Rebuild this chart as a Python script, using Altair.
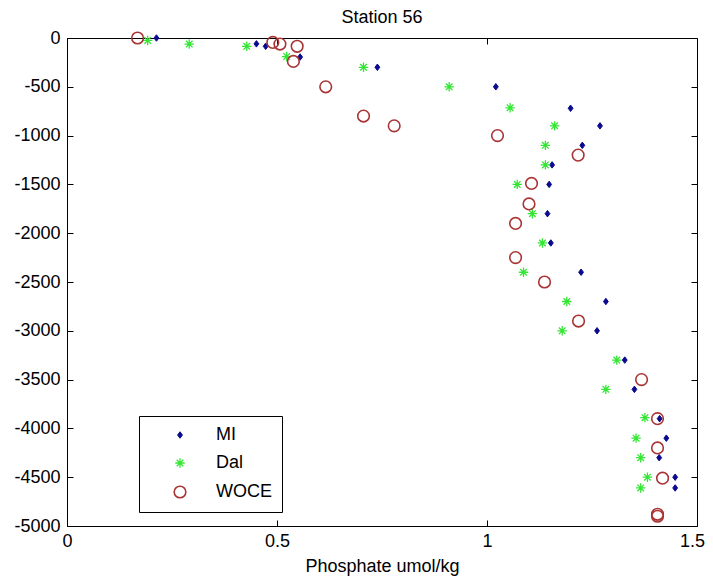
import altair as alt
import pandas as pd

series_names = ["MI", "Dal", "WOCE"]

mi_phosphate = [0.213, 0.451, 0.473, 0.555, 0.739, 1.021, 1.199, 1.269, 1.227, 1.155, 1.148, 1.144,
                1.152, 1.224, 1.283, 1.262, 1.328, 1.351, 1.411, 1.427, 1.410, 1.448, 1.448]
mi_depth = [0, -60, -85, -195, -300, -500, -720, -900, -1100, -1300, -1500, -1800,
            -2100, -2400, -2700, -3000, -3300, -3600, -3900, -4100, -4300, -4500, -4610]

dal_phosphate = [0.192, 0.291, 0.428, 0.523, 0.706, 0.910, 1.055, 1.161, 1.139, 1.139, 1.072, 1.108,
                 1.132, 1.087, 1.190, 1.179, 1.309, 1.283, 1.376, 1.355, 1.366, 1.382, 1.366]
dal_depth = [-25, -62, -85, -190, -300, -500, -715, -900, -1100, -1300, -1500, -1800,
             -2100, -2400, -2700, -3000, -3300, -3600, -3890, -4100, -4300, -4500, -4610]

woce_phosphate = [0.168, 0.490, 0.507, 0.548, 0.539, 0.616, 0.706, 0.779, 1.025, 1.217, 1.106, 1.100,
                  1.068, 1.068, 1.137, 1.218, 1.368, 1.406, 1.406, 1.418, 1.406, 1.406]
woce_depth = [0, -45, -62, -85, -240, -500, -800, -900, -1000, -1200, -1490, -1700,
              -1900, -2250, -2500, -2900, -3500, -3900, -4200, -4510, -4880, -4900]

x_ticks = [0, 0.5, 1, 1.5]
y_ticks = [-5000, -4500, -4000, -3500, -3000, -2500, -2000, -1500, -1000, -500, 0]

rows = []
for name, xs_, ys_ in [("MI", mi_phosphate, mi_depth),
                       ("Dal", dal_phosphate, dal_depth),
                       ("WOCE", woce_phosphate, woce_depth)]:
    for x, y in zip(xs_, ys_):
        rows.append({"series": name, "phosphate": x, "depth": y})
df = pd.DataFrame(rows)

FONT = "Liberation Sans"
blue = "#0a0a8f"
green = "#33e633"
red = "#a83434"

asterisk = "M-1,0L1,0M0,-1L0,1M-0.7,-0.7L0.7,0.7M-0.7,0.7L0.7,-0.7"
diamond = "M-0.75,0L0,-1L0.75,0L0,1Z"

x_scale = alt.Scale(domain=[0, 1.5], nice=False, zero=False)
y_scale = alt.Scale(domain=[-5000, 0], nice=False, zero=False)

common_axis = dict(offset=-6, tickSize=6, domain=False, grid=False, tickColor="black",
                   tickWidth=1, labelColor="black", labelFont=FONT, labelFontSize=18,
                   labelFlush=False,
                   titleFont=FONT, titleFontSize=18, titleColor="black", titleFontWeight="normal")

legend = alt.Legend(title=None, orient="none", legendX=72, legendY=378,
                    strokeColor="black", fillColor="white", padding=10,
                    symbolOffset=22, labelOffset=27, labelFont=FONT, labelFontSize=18,
                    labelColor="black", rowPadding=10, symbolStrokeWidth=1.4)

points = alt.Chart(df).mark_point(filled=False, opacity=1).encode(
    x=alt.X("phosphate:Q", scale=x_scale,
            axis=alt.Axis(orient="bottom", values=x_ticks, title="Phosphate umol/kg",
                          labelExpr="toString(datum.value)", labelPadding=6, titlePadding=7,
                          labelOffset=alt.ExprRef("datum.value >= 1.5 ? -5 : 0"),
                          **common_axis)),
    y=alt.Y("depth:Q", scale=y_scale,
            axis=alt.Axis(orient="left", values=y_ticks, title=None,
                          labelExpr="datum.value == 0 ? '0' : '-' + toString(abs(datum.value))",
                          labelPadding=7, **common_axis)),
    color=alt.Color("series:N", sort=series_names,
                    scale=alt.Scale(domain=series_names, range=[blue, green, red]), legend=legend),
    fill=alt.Fill("series:N", sort=series_names,
                  scale=alt.Scale(domain=series_names, range=[blue, "transparent", "transparent"]),
                  legend=legend),
    shape=alt.Shape("series:N", sort=series_names,
                    scale=alt.Scale(domain=series_names, range=[diamond, asterisk, "circle"]),
                    legend=legend),
    size=alt.Size("series:N", sort=series_names,
                  scale=alt.Scale(domain=series_names, range=[42, 135, 130]), legend=legend),
    strokeWidth=alt.StrokeWidth("series:N", sort=series_names,
                                scale=alt.Scale(domain=series_names, range=[1, 1.6, 1.2]),
                                legend=None),
)

frame = alt.Chart(df).mark_point(opacity=0).encode(
    x=alt.X("phosphate:Q", scale=x_scale,
            axis=alt.Axis(orient="top", values=x_ticks, title=None, labels=False, **common_axis)),
    y=alt.Y("depth:Q", scale=y_scale,
            axis=alt.Axis(orient="right", values=y_ticks, title=None, labels=False, **common_axis)),
)

chart = alt.layer(frame, points).resolve_axis(x="independent", y="independent").properties(
    width=630, height=488,
    title=alt.Title("Station 56", font=FONT, fontSize=18, fontWeight="normal",
                    color="black", anchor="middle", offset=2),
    autosize=alt.AutoSizeParams(type="none"),
    padding={"left": 59, "top": 30, "right": 8, "bottom": 50},
    background="white",
).configure_view(stroke="black", strokeWidth=1)

chart.save("out.html", embed_options={"renderer": "svg", "actions": False})
